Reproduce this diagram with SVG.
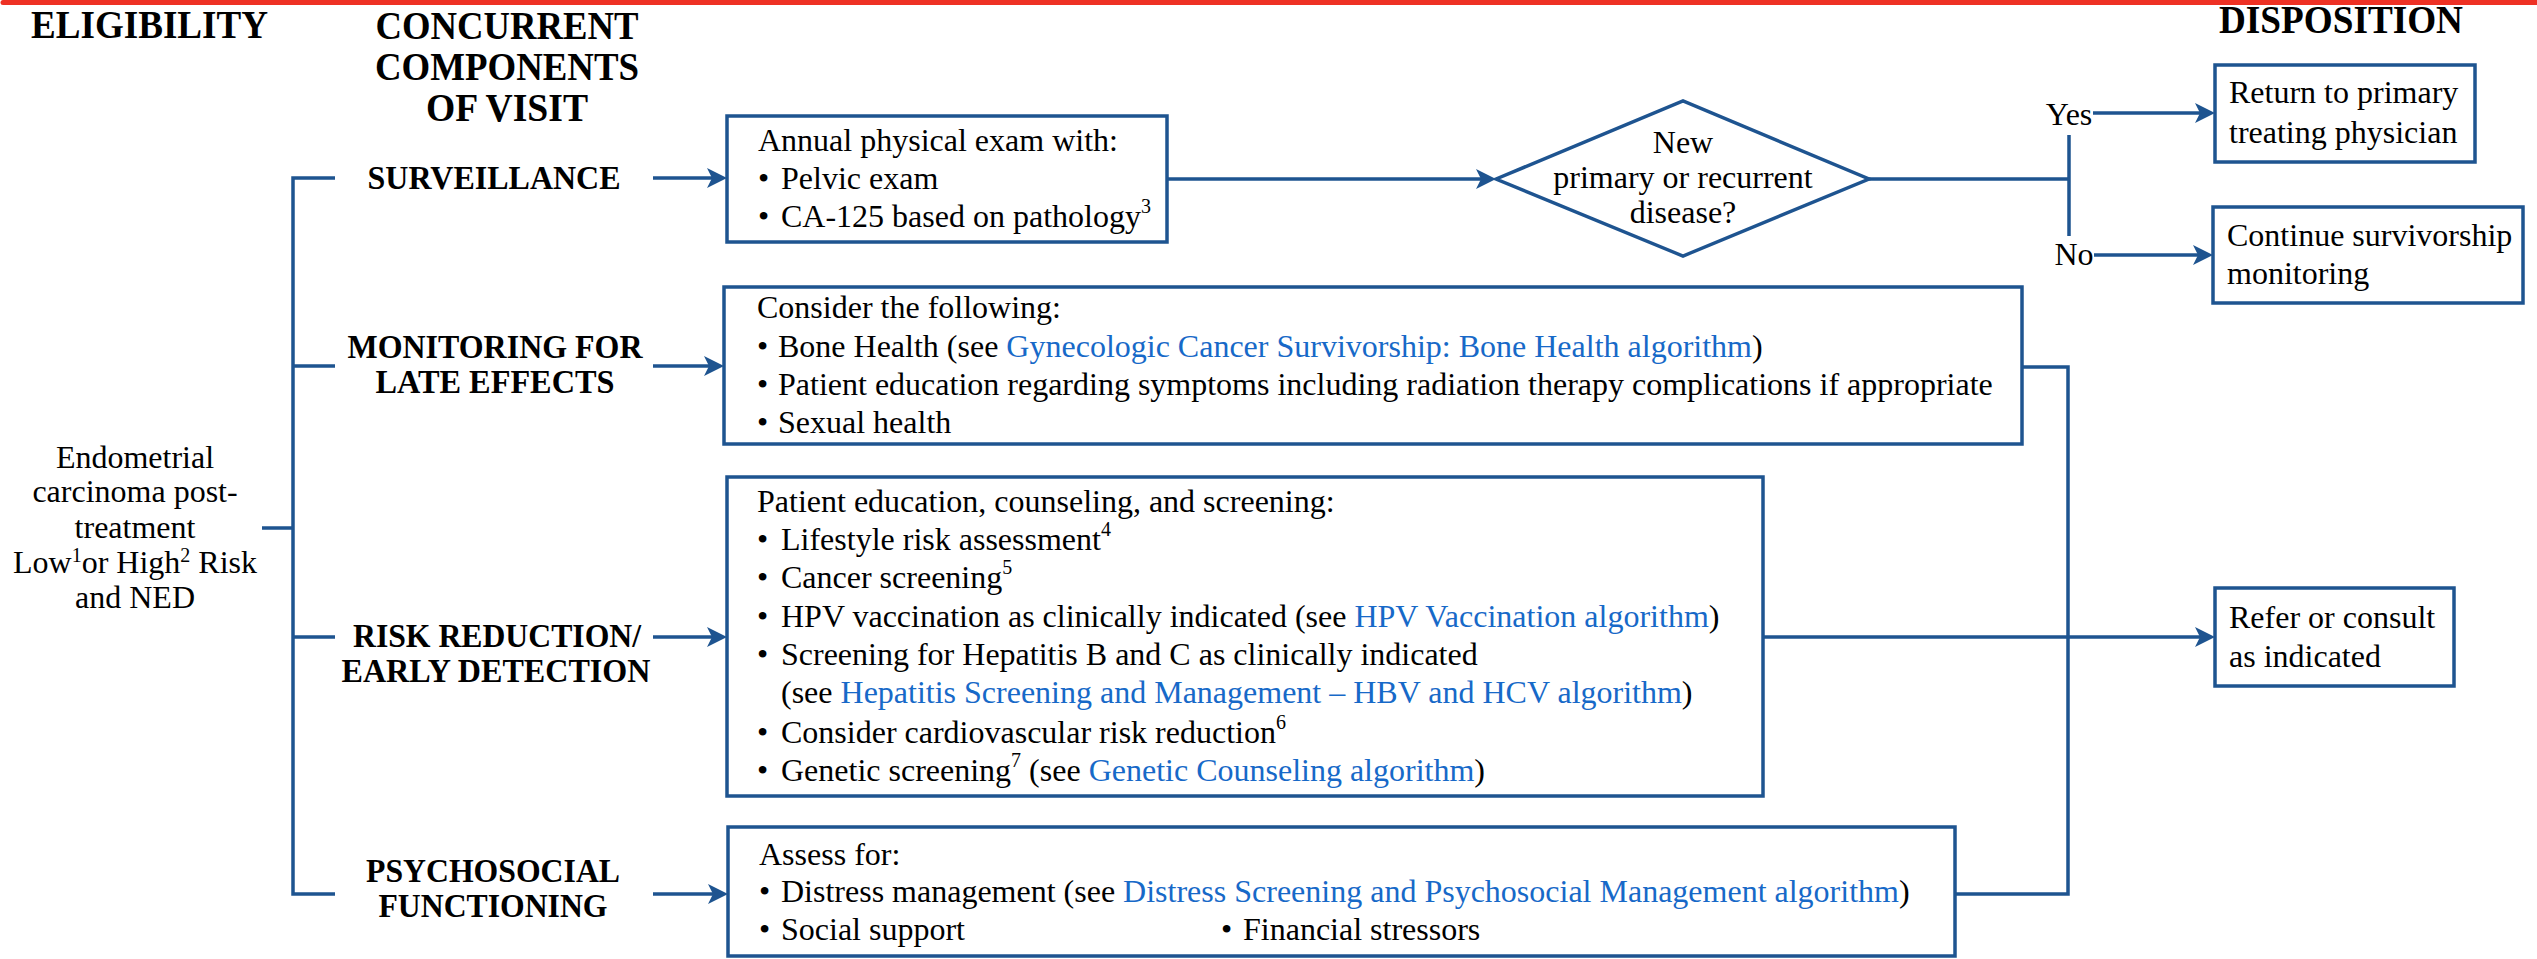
<svg xmlns="http://www.w3.org/2000/svg" width="2537" height="959" viewBox="0 0 2537 959">
  <style>
    text { font-family: "Liberation Serif", "Times New Roman", serif; fill: #000; }
    .hd { font-size: 40px; font-weight: bold; }
    .sec { font-size: 34px; font-weight: bold; text-anchor: middle; }
    .tx { font-size: 32px; }
    .mid { text-anchor: middle; }
    .lk { fill: #1769C8; }
    .box { fill: #fff; stroke: #1E5490; stroke-width: 3.5; }
    .ln { fill: none; stroke: #1E5490; stroke-width: 3.5; }
    .arw { fill: none; stroke: #1E5490; stroke-width: 3.5; marker-end: url(#head); }
  </style>
  <defs>
    <marker id="head" markerUnits="userSpaceOnUse" viewBox="-20 -10 20 20" refX="-10" refY="0" markerWidth="20" markerHeight="20" orient="auto">
      <path d="M0,0 L-20,-10 L-15,0 L-20,10 Z" fill="#1E5490"/>
    </marker>
  </defs>

  <rect x="0" y="0" width="2537" height="959" fill="#fff"/>
  <!-- top rule -->
  <line x1="3" y1="2.5" x2="2537" y2="2.5" stroke="#EE3124" stroke-width="5" stroke-linecap="round"/>

  <!-- column headings -->
  <g id="headings">
    <text class="hd" x="31" y="38" textLength="237" lengthAdjust="spacingAndGlyphs">ELIGIBILITY</text>
    <text class="hd mid" x="507" y="39" text-anchor="middle" textLength="263" lengthAdjust="spacingAndGlyphs">CONCURRENT</text>
    <text class="hd" x="507" y="80" text-anchor="middle" textLength="264" lengthAdjust="spacingAndGlyphs">COMPONENTS</text>
    <text class="hd" x="507" y="121" text-anchor="middle" textLength="162" lengthAdjust="spacingAndGlyphs">OF VISIT</text>
    <text class="hd" x="2219" y="33" textLength="244" lengthAdjust="spacingAndGlyphs">DISPOSITION</text>
  </g>

  <!-- connectors -->
  <g id="connectors">
    <path class="ln" d="M262,528 H293 M335,178 H293 V894 H335 M293,366 H335 M293,637 H335"/>
    <path class="arw" d="M653,178 H717"/>
    <path class="arw" d="M653,366 H714"/>
    <path class="arw" d="M653,637 H717"/>
    <path class="arw" d="M653,894 H718"/>
    <path class="arw" d="M1167,179 H1486"/>
    <path class="ln" d="M1869,179 H2069 M2069,135 V236"/>
    <path class="arw" d="M2093,113 H2205"/>
    <path class="arw" d="M2094,255 H2203"/>
    <path class="ln" d="M2022,367 H2068 V894 H1955"/>
    <path class="arw" d="M1763,637 H2205"/>
  </g>

  <!-- eligibility -->
  <g id="eligibility" class="tx">
    <text class="tx mid" x="135" y="468">Endometrial</text>
    <text class="tx mid" x="135" y="502">carcinoma post-</text>
    <text class="tx mid" x="135" y="538">treatment</text>
    <text class="tx mid" x="135" y="573">Low<tspan font-size="20" dy="-11">1</tspan><tspan dy="11">or High</tspan><tspan font-size="20" dy="-11">2</tspan><tspan dy="11"> Risk</tspan></text>
    <text class="tx mid" x="135" y="608">and NED</text>
  </g>

  <!-- section labels -->
  <g id="label-surveillance">
    <text class="sec" x="494" y="189" textLength="253" lengthAdjust="spacingAndGlyphs">SURVEILLANCE</text>
  </g>
  <g id="label-monitoring">
    <text class="sec" x="495" y="358" textLength="295" lengthAdjust="spacingAndGlyphs">MONITORING FOR</text>
    <text class="sec" x="495" y="393" textLength="239" lengthAdjust="spacingAndGlyphs">LATE EFFECTS</text>
  </g>
  <g id="label-risk">
    <text class="sec" x="497" y="647" textLength="288" lengthAdjust="spacingAndGlyphs">RISK REDUCTION/</text>
    <text class="sec" x="496" y="682" textLength="309" lengthAdjust="spacingAndGlyphs">EARLY DETECTION</text>
  </g>
  <g id="label-psychosocial">
    <text class="sec" x="493" y="882" textLength="254" lengthAdjust="spacingAndGlyphs">PSYCHOSOCIAL</text>
    <text class="sec" x="493" y="917" textLength="229" lengthAdjust="spacingAndGlyphs">FUNCTIONING</text>
  </g>

  <!-- surveillance exam -->
  <g id="surveillance-box">
    <rect class="box" x="727" y="116" width="440" height="126"/>
    <text class="tx" x="758" y="151">Annual physical exam with:</text>
    <text class="tx" x="758" y="189">•<tspan x="781">Pelvic exam</tspan></text>
    <text class="tx" x="758" y="227">•<tspan x="781">CA-125 based on pathology</tspan><tspan font-size="20" dy="-14">3</tspan></text>
  </g>

  <!-- decision -->
  <g id="decision">
    <polygon class="box" points="1496,179 1683,101 1869,179 1683,256"/>
    <text class="tx mid" x="1683" y="153">New</text>
    <text class="tx mid" x="1683" y="188">primary or recurrent</text>
    <text class="tx mid" x="1683" y="223">disease?</text>
    <text class="tx mid" x="2069" y="125">Yes</text>
    <text class="tx mid" x="2074" y="265">No</text>
  </g>

  <g id="return-box">
    <rect class="box" x="2215" y="65" width="260" height="97"/>
    <text class="tx" x="2229" y="103">Return to primary</text>
    <text class="tx" x="2229" y="143">treating physician</text>
  </g>

  <g id="continue-box">
    <rect class="box" x="2213" y="207" width="310" height="96"/>
    <text class="tx" x="2227" y="246">Continue survivorship</text>
    <text class="tx" x="2227" y="284">monitoring</text>
  </g>

  <!-- late effects -->
  <g id="monitoring-box">
    <rect class="box" x="724" y="287" width="1298" height="157"/>
    <text class="tx" x="757" y="318">Consider the following:</text>
    <text class="tx" x="757" y="357">•<tspan x="778">Bone Health (see </tspan><tspan class="lk">Gynecologic Cancer Survivorship: Bone Health algorithm</tspan>)</text>
    <text class="tx" x="757" y="395">•<tspan x="778">Patient education regarding symptoms including radiation therapy complications if appropriate</tspan></text>
    <text class="tx" x="757" y="433">•<tspan x="778">Sexual health</tspan></text>
  </g>

  <!-- risk reduction -->
  <g id="risk-box">
    <rect class="box" x="727" y="477" width="1036" height="319"/>
    <text class="tx" x="757" y="512">Patient education, counseling, and screening:</text>
    <text class="tx" x="757" y="550">•<tspan x="781">Lifestyle risk assessment</tspan><tspan font-size="20" dy="-14">4</tspan></text>
    <text class="tx" x="757" y="588">•<tspan x="781">Cancer screening</tspan><tspan font-size="20" dy="-14">5</tspan></text>
    <text class="tx" x="757" y="627">•<tspan x="781">HPV vaccination as clinically indicated (see </tspan><tspan class="lk">HPV Vaccination algorithm</tspan>)</text>
    <text class="tx" x="757" y="665">•<tspan x="781">Screening for Hepatitis B and C as clinically indicated</tspan></text>
    <text class="tx" x="781" y="703">(see <tspan class="lk">Hepatitis Screening and Management – HBV and HCV algorithm</tspan>)</text>
    <text class="tx" x="757" y="743">•<tspan x="781">Consider cardiovascular risk reduction</tspan><tspan font-size="20" dy="-14">6</tspan></text>
    <text class="tx" x="757" y="781">•<tspan x="781">Genetic screening</tspan><tspan font-size="20" dy="-14">7</tspan><tspan dy="14"> (see </tspan><tspan class="lk">Genetic Counseling algorithm</tspan>)</text>
  </g>

  <g id="refer-box">
    <rect class="box" x="2215" y="588" width="239" height="98"/>
    <text class="tx" x="2229" y="628">Refer or consult</text>
    <text class="tx" x="2229" y="667">as indicated</text>
  </g>

  <!-- psychosocial -->
  <g id="psychosocial-box">
    <rect class="box" x="728" y="827" width="1227" height="129"/>
    <text class="tx" x="759" y="865">Assess for:</text>
    <text class="tx" x="759" y="902">•<tspan x="781">Distress management (see </tspan><tspan class="lk">Distress Screening and Psychosocial Management algorithm</tspan>)</text>
    <text class="tx" x="759" y="940">•<tspan x="781">Social support</tspan></text>
    <text class="tx" x="1221" y="940">•<tspan x="1243">Financial stressors</tspan></text>
  </g>
</svg>
